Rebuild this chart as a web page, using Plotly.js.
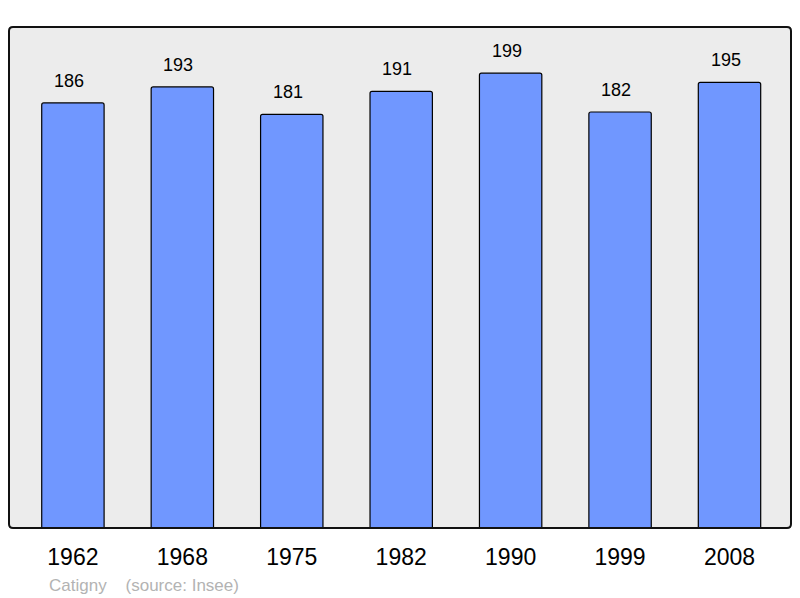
<!DOCTYPE html>
<html>
<head>
<meta charset="utf-8">
<script src="https://cdn.plot.ly/plotly-3.0.1.min.js"></script>
<style>
  html, body { margin: 0; padding: 0; background: #fff; }
  #chart { width: 800px; height: 598px; }
</style>
</head>
<body>
<div id="chart"></div>
<script>
// Population de Catigny (source : Insee)
const years = ['1962', '1968', '1975', '1982', '1990', '1999', '2008'];
const population = [186, 193, 181, 191, 199, 182, 195];
const caption = 'Catigny    (source: Insee)';

const FONT = 'Liberation Sans, Arial, sans-serif';

const bars = {
  type: 'bar',
  x: years,
  y: population,
  width: 0.57,
  marker: { color: '#7097ff', line: { color: '#000', width: 1.2 }, cornerradius: 2 },
  hoverinfo: 'x+y'
};

// étiquettes de valeur au-dessus des barres (x = index de catégorie)
const valueLabels = years.map((yr, i) => ({
  x: i, y: population[i], xref: 'x', yref: 'y',
  text: String(population[i]), showarrow: false,
  yanchor: 'bottom', yshift: 10, xshift: -4,
  font: { family: FONT, size: 18, color: '#000' }
}));

// cadre arrondi autour de la zone de tracé (coordonnées papier)
const rx = 4 / 782, ry = 4 / 501;
const framePath = `M ${rx},0 L ${1 - rx},0 Q 1,0 1,${ry} L 1,${1 - ry} Q 1,1 ${1 - rx},1 ` +
  `L ${rx},1 Q 0,1 0,${1 - ry} L 0,${ry} Q 0,0 ${rx},0 Z`;

const layout = {
  width: 800, height: 598,
  margin: { l: 9, r: 9, t: 27, b: 70 },
  paper_bgcolor: '#fff',
  plot_bgcolor: '#ececec',
  showlegend: false,
  xaxis: {
    type: 'category', range: [-0.584, 6.562], autorange: false,
    showgrid: false, zeroline: false, showline: false,
    ticks: 'outside', ticklen: 8, tickcolor: 'rgba(0,0,0,0)',
    tickfont: { family: FONT, size: 23, color: '#000' }
  },
  yaxis: {
    range: [0, 219.2], autorange: false,
    showgrid: false, zeroline: false, showline: false, showticklabels: false
  },
  shapes: [{
    type: 'path', xref: 'paper', yref: 'paper', path: framePath,
    line: { color: '#111', width: 2 }, layer: 'above'
  }],
  annotations: valueLabels.concat([{
    xref: 'paper', yref: 'paper', x: 0.048, y: -0.114,
    xanchor: 'left', yanchor: 'middle', showarrow: false,
    text: caption, font: { family: FONT, size: 17, color: '#b3b3b3' }
  }])
};

Plotly.newPlot('chart', [bars], layout, { staticPlot: true, displayModeBar: false });
</script>
</body>
</html>
